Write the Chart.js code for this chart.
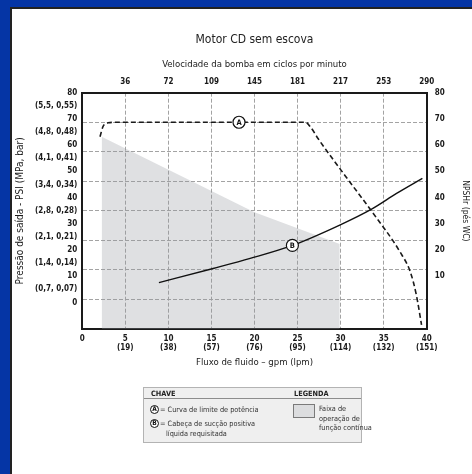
<!DOCTYPE html>
<html lang="pt">
<head>
<meta charset="utf-8">
<title>Motor CD sem escova</title>
<script src="https://cdn.jsdelivr.net/npm/chart.js@4.4.1/dist/chart.umd.min.js"></script>
<style>
  html, body { margin: 0; padding: 0; }
  body {
    width: 472px; height: 474px; overflow: hidden; position: relative;
    background: #0535a5;
    font-family: "Liberation Sans Narrow", "DejaVu Sans Condensed", sans-serif;
  }
  #panel {
    position: absolute; left: 10px; top: 7px; right: 0; bottom: 0;
    background: #fff; border-left: 2px solid #222; border-top: 2px solid #222;
  }
  #chart { position: absolute; left: 0; top: 0; }
  #key {
    position: absolute; left: 131px; top: 378px; width: 219px; height: 56px;
    box-sizing: border-box; background: #efefef; border: 1px solid #b3b3b3;
    color: #333; font-size: 7.3px;
  }
  #key .head {
    position: absolute; left: 0; right: 0; top: 0; height: 10px;
    border-bottom: 1px solid #8c8c8c;
  }
  #key span { position: absolute; line-height: 10px; white-space: nowrap; }
  #key .bold { font-weight: bold; color: #222; }
  #key .circ {
    position: absolute; width: 9px; height: 9px; box-sizing: border-box;
    border: 1px solid #111; border-radius: 50%; background: #fff;
    font-weight: bold; font-size: 6.5px; line-height: 7px; text-align: center; color: #111;
  }
  #key .swatch {
    position: absolute; left: 149px; top: 16px; width: 22px; height: 14px;
    box-sizing: border-box; background: #dcdddf; border: 1px solid #7a7a7a;
  }
</style>
</head>
<body>
<div id="panel">
  <canvas id="chart" width="460" height="465"></canvas>
  <div id="key">
    <div class="head"></div>
    <span class="bold" style="left:7px;top:1px">CHAVE</span>
    <span class="bold" style="left:150px;top:1px">LEGENDA</span>
    <div class="circ" style="left:6px;top:17px">A</div>
    <span style="left:16px;top:17px">= Curva de limite de potência</span>
    <div class="circ" style="left:6px;top:31px">B</div>
    <span style="left:16px;top:31px">= Cabeça de sucção positiva</span>
    <span style="left:22px;top:41px">líquida requisitada</span>
    <div class="swatch"></div>
    <span style="left:175px;top:16px">Faixa de</span>
    <span style="left:175px;top:25.5px">operação de</span>
    <span style="left:175px;top:34.5px">função contínua</span>
  </div>
</div>
<script>
// bottom axis: flow in gpm with lpm under it
const flowTicks = [0, 5, 10, 15, 20, 25, 30, 35, 40];
const lpmLabels = ["", "(19)", "(38)", "(57)", "(76)", "(95)", "(114)", "(132)", "(151)"];
// top axis: pump speed, cycles per minute
const cpmLabels = ["", "36", "72", "109", "145", "181", "217", "253", "290"];
// left axis labels, top to bottom (psi and MPa, bar in between)
const psiLabels = ["80", "(5,5, 0,55)", "70", "(4,8, 0,48)", "60", "(4,1, 0,41)", "50",
  "(3,4, 0,34)", "40", "(2,8, 0,28)", "30", "(2,1, 0,21)", "20", "(1,4, 0,14)", "10",
  "(0,7, 0,07)", "0"];
// right axis labels, top to bottom
const npshLabels = ["80", "70", "60", "50", "40", "30", "20", "10"];

// curve A: power limit (dashed)
const limitFlow = [2.06, 2.4, 3.0, 4.0, 25.9, 26.5, 27.4, 30.5, 33.8, 36.9, 38.1, 38.8, 39.4];
const limitValue = [65.1, 68.5, 69.8, 70, 70, 68.4, 64.4, 52.0, 39.1, 26.1, 19.3, 11.5, 1.4];
// curve B: NPSHr (solid)
const npshFlow = [8.9, 15.2, 19.5, 24.4, 29.9, 33.6, 36.5, 39.5];
const npshValue = [15.7, 20.5, 23.9, 28.3, 35.2, 40.6, 45.9, 51.0];
// continuous duty band (shaded)
const bandFlow = [2.25, 20, 29.9];
const bandValue = [65.1, 39.5, 28.8];
// circled markers on the curves
const markerLabels = ["A", "B"];
const markerFlow = [18.2, 24.4];
const markerValue = [70, 28.3];

const FONT = "'Liberation Sans Narrow', 'DejaVu Sans Condensed', sans-serif";
const LABEL_STEP = 4.44; // the printed labels run a bit tighter than the grid
Chart.defaults.font.family = FONT;
Chart.defaults.color = "#1a1a1a";

const toPoints = (xs, ys) => xs.map((x, i) => ({ x: x, y: ys[i] }));

const markerLetters = {
  id: "markerLetters",
  afterDatasetsDraw(chart) {
    const meta = chart.getDatasetMeta(0);
    const ctx = chart.ctx;
    ctx.save();
    ctx.font = "bold 7.5px " + FONT;
    ctx.fillStyle = "#111";
    ctx.textAlign = "center";
    ctx.textBaseline = "middle";
    meta.data.forEach((pt, i) => ctx.fillText(markerLabels[i], pt.x, pt.y + 0.5));
    ctx.restore();
  }
};

const grid = { color: "#a3a3a3", lineWidth: 1, tickLength: 0, drawTicks: false };
const border = { display: true, color: "#1a1a1a", width: 2 };
const gridBorder = { display: true, color: "#1a1a1a", width: 2, dash: [4, 2] };
const tickFont = { size: 8, weight: "bold" };

new Chart(document.getElementById("chart"), {
  type: "line",
  data: {
    datasets: [
      {
        data: toPoints(markerFlow, markerValue),
        showLine: false,
        pointRadius: 6,
        pointBackgroundColor: "#fff",
        pointBorderColor: "#111",
        pointBorderWidth: 1.2,
        order: 0
      },
      {
        data: toPoints(limitFlow, limitValue),
        borderColor: "#1a1a1a",
        borderWidth: 1.6,
        borderDash: [5, 3],
        cubicInterpolationMode: "monotone",
        pointRadius: 0,
        order: 1
      },
      {
        data: toPoints(npshFlow, npshValue),
        borderColor: "#111",
        borderWidth: 1.4,
        cubicInterpolationMode: "monotone",
        pointRadius: 0,
        order: 1
      },
      {
        data: toPoints(bandFlow, bandValue),
        borderWidth: 0,
        borderColor: "rgba(0,0,0,0)",
        backgroundColor: "rgba(150,153,160,0.3)",
        fill: "origin",
        pointRadius: 0,
        tension: 0,
        order: 2
      }
    ]
  },
  options: {
    responsive: false,
    animation: false,
    events: [],
    layout: { padding: { left: 0, right: 0, top: 0, bottom: 100 } },
    plugins: { legend: { display: false }, tooltip: { enabled: false } },
    scales: {
      x: {
        type: "linear", position: "bottom", min: 0, max: 40,
        afterBuildTicks: (scale) => { scale.ticks = flowTicks.map((v) => ({ value: v })); },
        grid: grid,
        border: gridBorder,
        ticks: {
          font: tickFont, padding: 5, autoSkip: false, maxRotation: 0,
          callback: (v, i) => (lpmLabels[i] ? [String(v), lpmLabels[i]] : String(v))
        },
        title: {
          display: true, text: "Fluxo de fluido – gpm (lpm)",
          font: { size: 9.5 }, padding: { top: 0, bottom: 6 }
        },
        afterFit: (scale) => { scale.height = 45; }
      },
      x2: {
        type: "linear", position: "top", min: 0, max: 40, weight: 0,
        afterBuildTicks: (scale) => { scale.ticks = flowTicks.map((v) => ({ value: v })); },
        grid: { display: false, drawTicks: false },
        border: border,
        ticks: { font: tickFont, padding: 6, autoSkip: false, maxRotation: 0,
          callback: (v, i) => cpmLabels[i] },
        title: {
          display: true, text: "Velocidade da bomba em ciclos por minuto",
          font: { size: 9.5 }, padding: { top: 2, bottom: 0 }
        },
        afterFit: (scale) => { scale.height = 35.7; }
      },
      x3: {
        type: "linear", position: "top", min: 0, max: 40, weight: 1,
        grid: { display: false, drawTicks: false },
        border: { display: false },
        ticks: { display: false },
        title: {
          display: true, text: "Motor CD sem escova", color: "#222",
          font: { size: 12 }, padding: { top: 23.5, bottom: 0 }
        },
        afterFit: (scale) => { scale.height = 48; }
      },
      y: {
        type: "linear", position: "left", min: 0, max: 80, weight: 0,
        ticks: { display: false, stepSize: 10 },
        grid: grid,
        border: gridBorder
      },
      yl: {
        type: "linear", position: "left", min: 0, max: 80, weight: 1,
        afterBuildTicks: (scale) => {
          scale.ticks = psiLabels.map((t, i) => ({ value: 80 - i * LABEL_STEP }));
        },
        grid: { display: false, drawTicks: false },
        border: { display: false },
        ticks: { font: tickFont, padding: 5, autoSkip: false, callback: (v, i) => psiLabels[i] },
        title: {
          display: true, text: "Pressão de saída - PSI (MPa, bar)",
          font: { size: 10 }, padding: { top: 2, bottom: 0 }
        },
        afterFit: (scale) => { scale.width = 70.3; }
      },
      y2: {
        type: "linear", position: "right", min: 0, max: 80,
        afterBuildTicks: (scale) => {
          scale.ticks = npshLabels.map((t, i) => ({ value: 80 - i * 2 * LABEL_STEP }));
        },
        grid: { display: false, drawTicks: false },
        border: border,
        ticks: { font: tickFont, padding: 8, autoSkip: false, callback: (v, i) => npshLabels[i] },
        title: {
          display: true, text: "NPSHr (pés WC)",
          font: { size: 8.5 }, padding: { top: 1.5, bottom: 0 }
        },
        afterFit: (scale) => { scale.width = 45.3; }
      }
    }
  },
  plugins: [markerLetters]
});
</script>
</body>
</html>
